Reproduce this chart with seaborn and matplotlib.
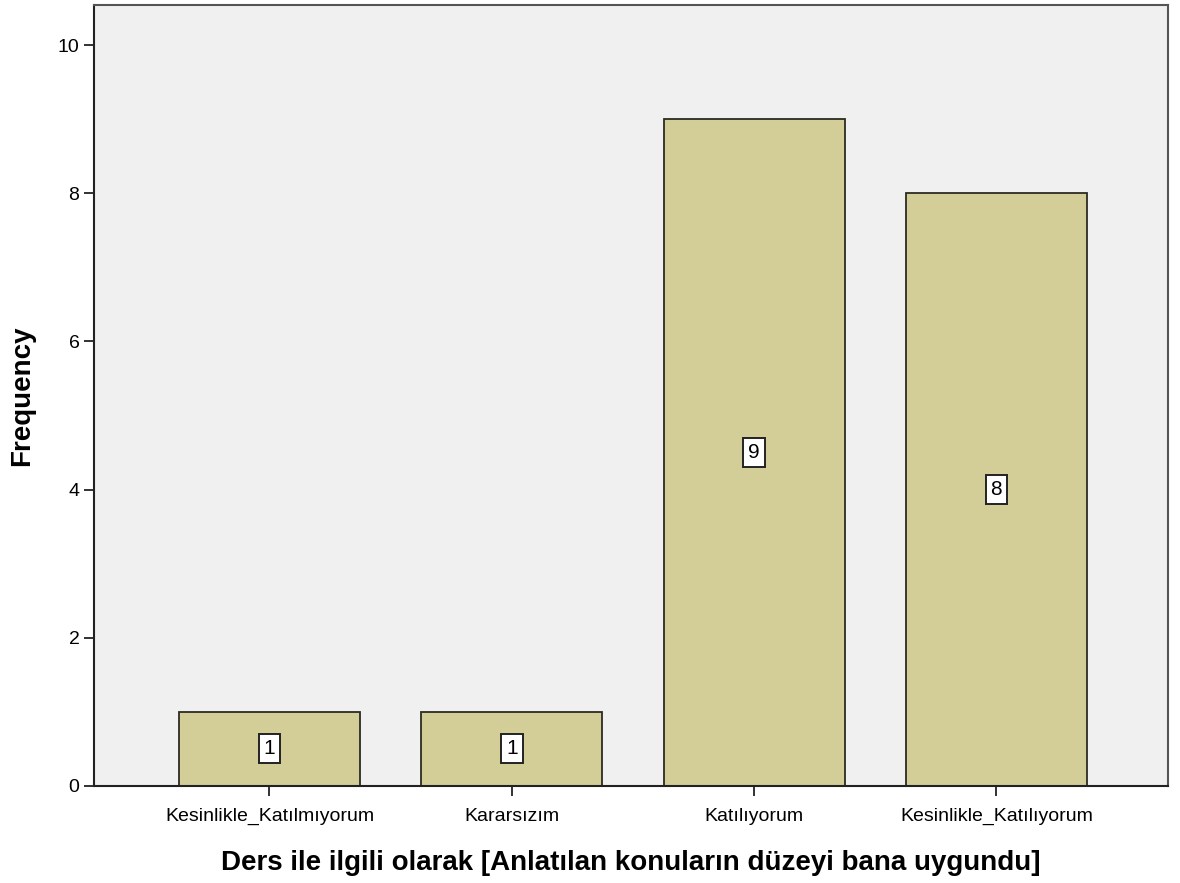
import matplotlib
matplotlib.use("Agg")
from matplotlib import pyplot as plt
import seaborn as sns
import pandas as pd

categories = ["Kesinlikle_Katılmıyorum", "Kararsızım", "Katılıyorum", "Kesinlikle_Katılıyorum"]
counts = [1, 1, 9, 8]
yticks = [0, 2, 4, 6, 8, 10]

sns.set_style("ticks")
plt.rcParams['font.family'] = ['Liberation Sans', 'DejaVu Sans']
plt.rcParams['text.color'] = 'black'
plt.rcParams['axes.labelcolor'] = 'black'
plt.rcParams['xtick.color'] = 'black'
plt.rcParams['ytick.color'] = 'black'

df = pd.DataFrame({"category": categories, "count": counts})

fig = plt.figure(figsize=(11.8, 8.83), dpi=100)
ax = fig.add_axes([0.0797, 0.1099, 0.9101, 0.8844])
ax.set_facecolor("#f0f0f0")

sns.barplot(data=df, x="category", y="count", order=categories, color="#d3ce97",
            saturation=1, width=0.747, edgecolor="#2b2b22", linewidth=1.3, ax=ax)

# value labels in the middle of each bar
for i, v in enumerate(counts):
    ax.text(i, v / 2, str(v), ha="center", va="center", fontsize=15, color="black",
            bbox=dict(boxstyle="square,pad=0.24", facecolor="white", edgecolor="#222222", linewidth=1.4))

ax.set_xlim(-0.724, 3.708)
ax.set_ylim(0, 10.54)
ax.set_yticks(yticks)
ax.tick_params(axis="both", labelsize=14, length=7, width=1.3, color="#222222")
ax.tick_params(axis="x", pad=9)
ax.set_xlabel("Ders ile ilgili olarak [Anlatılan konuların düzeyi bana uygundu]",
              fontsize=20, fontweight="bold", labelpad=18)
ax.set_ylabel("Frequency", fontsize=20, fontweight="bold", labelpad=16)
for side in ["left", "bottom"]:
    ax.spines[side].set_color("#222222")
    ax.spines[side].set_linewidth(1.5)
for side in ["top", "right"]:
    ax.spines[side].set_visible(True)
    ax.spines[side].set_color("#555555")
    ax.spines[side].set_linewidth(1.5)

fig.savefig("out.png", dpi=100)
